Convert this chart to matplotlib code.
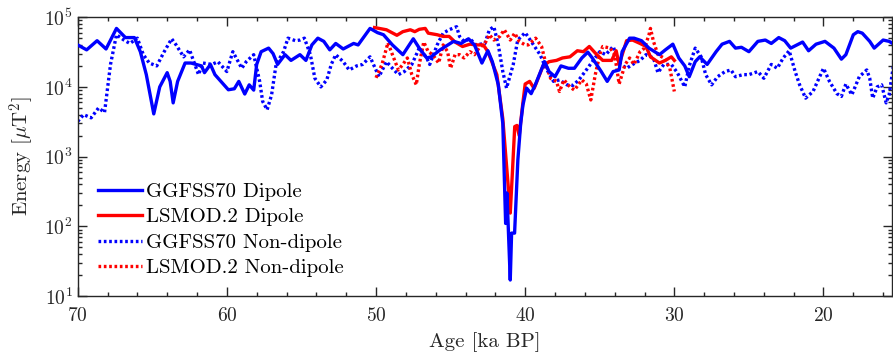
import matplotlib
matplotlib.use("Agg")
import matplotlib.pyplot as plt
import numpy as np
from matplotlib.ticker import MultipleLocator, LogLocator, NullFormatter

# GGFSS70 dipole energy (ka BP, uT^2)
ggf_dip_age = [70.0, 69.4, 68.7, 68.1, 67.4, 66.8, 66.2, 65.8, 65.4, 64.9, 64.5, 64.0, 63.8, 63.6,
               63.3, 62.8, 62.4, 61.7, 61.5, 61.1, 60.8, 60.4, 59.9, 59.5, 59.2, 58.8, 58.5, 58.2,
               58.0, 57.7, 57.2, 56.9, 56.6, 56.1, 55.7, 55.1, 54.7, 54.3, 53.9, 53.5, 53.1, 52.7,
               52.2, 51.5, 51.2, 50.4, 49.9, 49.5, 48.9, 48.2, 47.5, 47.1, 46.6, 46.3, 45.7, 44.8,
               44.3, 43.8, 43.4, 42.9, 42.5, 42.2, 41.8, 41.5, 41.31, 41.22, 41.0, 40.91, 40.71,
               40.49, 40.3, 40.15, 39.9, 39.6, 39.3, 38.7, 38.4, 38.0, 37.6, 37.1, 36.7, 36.2, 35.8,
               35.5, 34.9, 34.5, 34.1, 33.7, 33.5, 33.0, 32.7, 32.2, 31.7, 31.0, 30.6, 30.1, 29.7,
               29.3, 29.0, 28.6, 28.3, 27.8, 27.2, 26.8, 26.3, 25.9, 25.5, 25.0, 24.4, 23.9, 23.5,
               23.0, 22.6, 22.2, 21.4, 21.0, 20.5, 19.9, 19.3, 18.8, 18.5, 18.0, 17.7, 17.4, 16.9,
               16.6, 16.0, 15.6, 15.2]
ggf_dip_val = [4.0e4, 3.4e4, 4.6e4, 3.5e4, 6.9e4, 5.1e4, 5.1e4, 3.2e4, 1.5e4, 4.1e3, 1.0e4, 1.6e4, 1.2e4, 5.9e3,
               1.2e4, 2.2e4, 2.2e4, 2.0e4, 1.6e4, 2.1e4, 1.5e4, 1.2e4, 9.1e3, 9.4e3, 1.2e4, 7.9e3, 1.07e4, 9.0e3,
               2.1e4, 3.2e4, 3.6e4, 3.0e4, 2.1e4, 2.9e4, 2.4e4, 2.9e4, 2.4e4, 4.0e4, 5.0e4, 4.5e4, 3.4e4, 4.2e4,
               3.5e4, 4.2e4, 4.0e4, 6.9e4, 6.0e4, 5.6e4, 4.0e4, 2.9e4, 4.9e4, 3.6e4, 2.6e4, 2.7e4, 3.4e4, 4.5e4,
               4.2e4, 4.9e4, 4.0e4, 2.2e4, 3.3e4, 2.3e4, 1.07e4, 3.0e3, 1.1e2, 3.0e2, 17, 80, 80,
               9.0e2, 3.0e3, 5.5e3, 9.6e3, 8.0e3, 1.1e4, 2.3e4, 1.66e4, 1.4e4, 2.0e4, 1.85e4, 1.85e4, 2.6e4, 3.15e4,
               2.6e4, 1.66e4, 1.2e4, 1.66e4, 1.75e4, 3.2e4, 5.0e4, 5.0e4, 4.6e4, 3.6e4, 2.9e4, 3.4e4, 4.1e4, 2.6e4,
               2.0e4, 1.4e4, 2.3e4, 2.7e4, 2.1e4, 3.2e4, 4.1e4, 4.5e4, 3.6e4, 3.7e4, 3.2e4, 4.5e4, 4.7e4, 4.2e4,
               5.1e4, 4.6e4, 3.6e4, 4.4e4, 3.3e4, 4.1e4, 4.5e4, 3.6e4, 2.5e4, 2.9e4, 5.6e4, 6.2e4, 5.9e4, 4.5e4,
               3.6e4, 4.7e4, 4.5e4, 4.0e4]

# LSMOD.2 dipole energy
lsm_dip_age = [50.1, 49.3, 48.6, 48.2, 47.7, 47.4, 47.1, 46.7, 46.5, 45.9, 45.5, 45.1, 44.7, 44.2,
               43.7, 43.3, 42.8, 42.5, 41.9, 41.5, 41.28, 41.1, 41.0, 40.87, 40.7, 40.55, 40.4, 40.15,
               40.0, 39.7, 39.4, 38.8, 38.4, 37.9, 37.5, 37.0, 36.5, 36.1, 35.7, 35.2, 34.8, 34.2,
               33.9, 33.7, 33.2, 32.8, 32.3, 31.9, 31.6, 31.0, 30.6, 30.2, 30.0]
lsm_dip_val = [7.1e4, 6.6e4, 5.5e4, 6.2e4, 6.6e4, 6.2e4, 6.7e4, 6.9e4, 5.9e4, 5.6e4, 5.3e4, 5.3e4, 4.4e4, 3.8e4,
               4.1e4, 4.0e4, 4.0e4, 3.2e4, 1.5e4, 3.5e3, 9.0e2, 3.0e2, 1.55e2, 5.2e2, 2.7e3, 2.8e3, 2.0e3, 6.0e3,
               1.1e4, 1.2e4, 9.5e3, 2.0e4, 2.3e4, 2.4e4, 2.6e4, 2.7e4, 3.3e4, 3.2e4, 3.8e4, 2.9e4, 2.4e4, 2.4e4,
               3.3e4, 2.1e4, 4.6e4, 4.7e4, 4.2e4, 3.8e4, 2.7e4, 2.2e4, 2.4e4, 2.7e4, 2.4e4]

# GGFSS70 non-dipole energy
ggf_nd_age = [70.0, 69.6, 69.1, 68.6, 68.2, 67.8, 67.4, 66.9, 66.5, 66.0, 65.6, 65.2, 64.7, 64.2,
              63.7, 63.4, 62.9, 62.5, 61.9, 61.6, 61.0, 60.6, 60.0, 59.6, 59.0, 58.7, 58.2, 57.8,
              57.6, 57.3, 57.0, 56.7, 56.2, 55.9, 55.4, 55.1, 54.8, 54.4, 54.1, 53.7, 53.3, 53.0,
              52.7, 52.2, 51.8, 51.3, 50.9, 50.4, 49.8, 49.3, 48.9, 48.5, 48.1, 47.6, 47.1, 46.6,
              46.4, 45.9, 45.5, 45.1, 44.6, 44.4, 44.1, 43.7, 43.3, 42.7, 42.4, 42.1, 41.8, 41.5,
              41.25, 40.8, 40.5, 40.0, 39.6, 39.0, 38.6, 38.1, 37.7, 37.2, 36.8, 36.4, 35.9, 35.5,
              35.0, 34.6, 34.1, 33.7, 33.2, 32.8, 32.3, 31.9, 31.4, 31.1, 30.7, 30.2, 29.8, 29.3,
              29.0, 28.6, 28.2, 27.9, 27.5, 27.1, 26.6, 26.2, 25.9, 25.4, 25.0, 24.4, 24.0, 23.5,
              23.1, 22.7, 22.3, 21.9, 21.6, 21.2, 20.7, 20.4, 20.0, 19.6, 19.1, 18.8, 18.5, 18.1,
              17.6, 17.1, 16.9, 16.7, 16.4, 16.1, 15.8, 15.6, 15.3]
ggf_nd_val = [3.2e3, 4.0e3, 3.6e3, 5.0e3, 4.3e3, 2.1e4, 5.6e4, 4.7e4, 4.2e4, 5.0e4, 2.9e4, 2.2e4, 2.0e4, 3.2e4,
              4.9e4, 4.0e4, 2.7e4, 3.4e4, 1.5e4, 2.2e4, 2.1e4, 2.3e4, 1.66e4, 3.2e4, 1.85e4, 2.3e4, 2.9e4, 1.2e4,
              6.2e3, 4.7e3, 7.7e3, 2.1e4, 3.2e4, 5.0e4, 4.6e4, 4.7e4, 5.0e4, 2.9e4, 1.33e4, 1.0e4, 1.26e4, 2.1e4,
              2.9e4, 2.3e4, 1.75e4, 2.0e4, 2.1e4, 2.7e4, 1.4e4, 2.3e4, 1.85e4, 1.5e4, 1.66e4, 2.1e4, 3.6e4, 2.6e4,
              2.1e4, 4.0e4, 5.9e4, 6.6e4, 7.3e4, 5.3e4, 4.5e4, 4.9e4, 4.0e4, 4.2e4, 6.6e4, 7.3e4, 4.0e4, 1.66e4,
              9.6e3, 2.1e4, 4.7e4, 6.0e4, 4.5e4, 2.9e4, 1.85e4, 1.2e4, 1.26e4, 1.07e4, 1.05e4, 1.26e4, 1.75e4, 2.3e4,
              3.2e4, 2.9e4, 3.8e4, 2.2e4, 1.85e4, 2.1e4, 2.4e4, 2.9e4, 2.6e4, 1.6e4, 2.1e4, 2.1e4, 1.6e4, 1.0e4,
              2.0e4, 3.6e4, 2.7e4, 1.5e4, 1.07e4, 1.4e4, 1.66e4, 1.75e4, 1.4e4, 1.5e4, 1.5e4, 1.66e4, 1.33e4, 2.1e4,
              1.85e4, 2.6e4, 3.3e4, 1.66e4, 1.07e4, 6.9e3, 8.6e3, 1.2e4, 1.85e4, 1.2e4, 8.0e3, 7.3e3, 1.1e4, 7.7e3,
              1.4e4, 1.75e4, 1.33e4, 6.9e3, 1.0e4, 1.07e4, 5.9e3, 7.7e3, 2.1e4]

# LSMOD.2 non-dipole energy
lsm_nd_age = [50.0, 49.6, 49.2, 48.9, 48.5, 48.2, 47.9, 47.6, 47.3, 47.1, 46.8, 46.5, 46.2, 45.8,
              45.5, 45.2, 45.0, 44.7, 44.4, 44.1, 43.7, 43.4, 43.1, 42.7, 42.4, 42.1, 41.7, 41.4,
              41.0, 40.7, 40.4, 40.0, 39.8, 39.3, 38.9, 38.6, 38.3, 37.9, 37.7, 37.4, 37.0, 36.7,
              36.2, 35.9, 35.6, 35.3, 35.0, 34.8, 34.3, 34.0, 33.7, 33.3, 33.0, 32.7, 32.3, 32.0,
              31.7, 31.6, 31.4, 31.1, 30.7, 30.3, 30.0]
lsm_nd_val = [1.35e4, 2.1e4, 4.3e4, 2.9e4, 1.75e4, 2.1e4, 2.6e4, 1.5e4, 1.07e4, 2.1e4, 4.4e4, 3.2e4, 2.9e4, 2.2e4,
              4.0e4, 3.2e4, 1.85e4, 2.9e4, 2.9e4, 2.6e4, 3.2e4, 2.9e4, 3.6e4, 4.2e4, 5.6e4, 4.7e4, 5.3e4, 6.6e4,
              4.7e4, 5.9e4, 4.5e4, 4.0e4, 4.0e4, 5.0e4, 3.8e4, 2.1e4, 1.33e4, 1.2e4, 8.6e3, 1.26e4, 1.0e4, 9.0e3,
              1.26e4, 1.1e4, 6.5e3, 1.5e4, 2.9e4, 3.8e4, 3.6e4, 2.9e4, 1.1e4, 2.1e4, 2.6e4, 2.1e4, 3.2e4, 3.6e4,
              5.6e4, 6.9e4, 4.5e4, 2.9e4, 2.6e4, 1.85e4, 8.6e3]

plt.rcParams['font.family'] = 'serif'
plt.rcParams['font.serif'] = ['cmr10']
plt.rcParams['mathtext.fontset'] = 'cm'
plt.rcParams['axes.formatter.use_mathtext'] = True

dark = '#262626'
fig = plt.figure(figsize=(8.93, 3.58), dpi=100)
ax = fig.add_axes([0.087, 0.173, 0.912, 0.779])

dotted = (0, (0.8, 0.8))
ax.plot(ggf_dip_age, ggf_dip_val, color='#0000ff', lw=2.4, label='GGFSS70 Dipole', zorder=4)
ax.plot(lsm_dip_age, lsm_dip_val, color='#ff0000', lw=2.4, label='LSMOD.2 Dipole', zorder=3)
ax.plot(ggf_nd_age, ggf_nd_val, color='#0000ff', lw=2.4, ls=dotted, label='GGFSS70 Non-dipole', zorder=2)
ax.plot(lsm_nd_age, lsm_nd_val, color='#ff0000', lw=2.4, ls=dotted, label='LSMOD.2 Non-dipole', zorder=2)

ax.set_yscale('log')
ax.set_xlim(70, 15.4)
ax.set_ylim(10, 1e5)
ax.xaxis.set_major_locator(MultipleLocator(10))
ax.xaxis.set_minor_locator(MultipleLocator(2))
ax.yaxis.set_major_locator(LogLocator(base=10, numticks=10))
ax.yaxis.set_minor_locator(LogLocator(base=10, subs=np.arange(2, 10), numticks=10))
ax.yaxis.set_minor_formatter(NullFormatter())

ax.tick_params(which='both', direction='in', top=True, right=True, colors=dark, labelsize=14)
ax.tick_params(which='major', length=6.5, width=1)
ax.tick_params(which='minor', length=3.2, width=1)
ax.tick_params(axis='x', which='major', pad=8)
for s in ax.spines.values():
    s.set_color(dark)
    s.set_linewidth(1)

ax.set_xlabel('Age [ka BP]', fontsize=15, color=dark, labelpad=5)
ax.set_ylabel(r'Energy [$\mu$T$^2$]', fontsize=15, color=dark, labelpad=6)

ax.legend(loc='lower left', bbox_to_anchor=(0.025, 0.067), frameon=False, fontsize=15,
          handlelength=2.1, handletextpad=0.2, labelspacing=0.33, borderpad=0, borderaxespad=0)

fig.savefig('out.png', dpi=100)
